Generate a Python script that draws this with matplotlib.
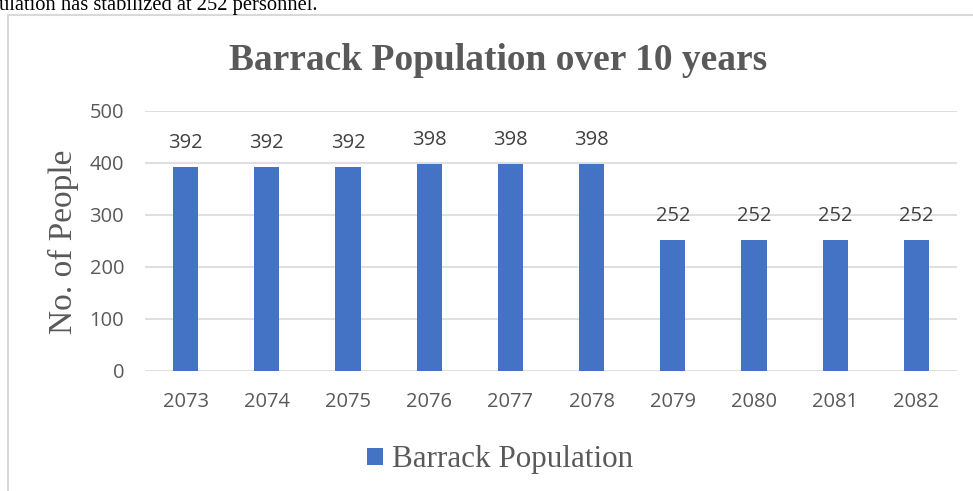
'''
Barrack population bar chart
'''

import matplotlib
matplotlib.use("Agg")
import matplotlib.pyplot as plt
from matplotlib.patches import Rectangle

years = ["2073", "2074", "2075", "2076", "2077",
         "2078", "2079", "2080", "2081", "2082"]
population = [392, 392, 392, 398, 398, 398, 252, 252, 252, 252]
yticks = [0, 100, 200, 300, 400, 500]

BAR = "#4472C4"
GRID = "#D9D9D9"
TEXT = "#595959"
SERIF = "Liberation Serif"
SANS = "Open Sans"

W, H = 973, 491
fig = plt.figure(figsize=(W / 100, H / 100), dpi=100)
fig.patch.set_facecolor("white")

# text of the page above the chart, cut by the screenshot
fig.text(-1 / W, 1 - 10 / H, "ulation has stabilized at 252 personnel.",
         family=SERIF, fontsize=14.8, color="black",
         ha="left", va="baseline")

# chart frame (right and bottom edges are off the picture)
fig.patches.append(Rectangle((8 / W, -0.1), 1.2, 0.1 + 1 - 15 / H,
                             transform=fig.transFigure, fill=False,
                             edgecolor=GRID, lw=1.5))

ax = fig.add_axes([145 / W, 1 - 371 / H, 812 / W, 260 / H])
x = range(len(years))
bars = ax.bar(x, population, width=0.31, color=BAR, zorder=3,
              label="Barrack Population")

ax.set_xlim(-0.5, len(years) - 0.5)
ax.set_ylim(0, 500)
ax.set_yticks(yticks)
ax.set_xticks(list(x))
ax.set_xticklabels(years)
ax.grid(True, axis="y", color=GRID, lw=1.2, zorder=0)
for s in ax.spines.values():
    s.set_visible(False)
ax.tick_params(axis="both", length=0, colors=TEXT, labelsize=14.5)
ax.tick_params(axis="y", pad=15)
ax.tick_params(axis="x", pad=15)
for lab in ax.get_xticklabels() + ax.get_yticklabels():
    lab.set_family(SANS)

for xi, v in zip(x, population):
    ax.annotate(str(v), (xi, v), xytext=(0, 24), textcoords="offset pixels",
                ha="center", va="center", family=SANS, fontsize=14.5,
                color="#404040")

ax.set_ylabel("No. of People", family=SERIF, fontsize=24, color=TEXT)
ax.yaxis.set_label_coords((79 - 145) / 812, (371 - 242) / 260)

fig.text(498 / W, 1 - 61 / H, "Barrack Population over 10 years",
         family=SERIF, fontsize=27, fontweight="bold", color=TEXT,
         ha="center", va="center")

fig.legend(handles=[bars], loc="center",
           bbox_to_anchor=(500 / W, 1 - 460 / H), frameon=False,
           prop={"family": SERIF, "size": 22.4}, labelcolor=TEXT,
           handlelength=0.5, handleheight=0.5, handletextpad=0.3)

fig.savefig("out.png", dpi=100)
